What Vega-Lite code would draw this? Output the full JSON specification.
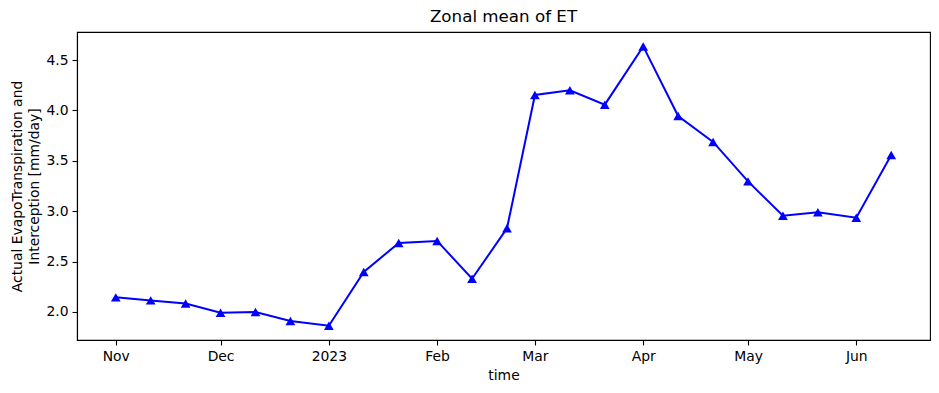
{
  "$schema": "https://vega.github.io/schema/vega-lite/v6.json",
  "width": 853,
  "height": 308,
  "autosize": "none",
  "padding": {"left": 77, "top": 32, "right": 9, "bottom": 53},
  "background": "white",
  "title": {"text": "Zonal mean of ET", "fontSize": 16.7, "fontWeight": "normal", "font": "DejaVu Sans", "color": "black", "offset": 6},
  "config": {
    "view": {"stroke": "black", "strokeWidth": 1.1},
    "font": "DejaVu Sans",
    "axis": {
      "labelFont": "DejaVu Sans", "labelFontSize": 13.9, "labelColor": "black",
      "titleFont": "DejaVu Sans", "titleFontSize": 13.9, "titleFontWeight": "normal", "titleColor": "black",
      "domainColor": "black", "domainWidth": 1.1, "tickColor": "black", "tickWidth": 1.1, "tickSize": 5,
      "labelPadding": 4, "grid": false
    }
  },
  "data": {"values": [
    {"time": "2022-11-01", "et": 2.145},
    {"time": "2022-11-11", "et": 2.115},
    {"time": "2022-11-21", "et": 2.085},
    {"time": "2022-12-01", "et": 1.993},
    {"time": "2022-12-11", "et": 2.0},
    {"time": "2022-12-21", "et": 1.91},
    {"time": "2023-01-01", "et": 1.864},
    {"time": "2023-01-11", "et": 2.397},
    {"time": "2023-01-21", "et": 2.685},
    {"time": "2023-02-01", "et": 2.705},
    {"time": "2023-02-11", "et": 2.33},
    {"time": "2023-02-21", "et": 2.83},
    {"time": "2023-03-01", "et": 4.153},
    {"time": "2023-03-11", "et": 4.2},
    {"time": "2023-03-21", "et": 4.057},
    {"time": "2023-04-01", "et": 4.635},
    {"time": "2023-04-11", "et": 3.944},
    {"time": "2023-04-21", "et": 3.687},
    {"time": "2023-05-01", "et": 3.296},
    {"time": "2023-05-11", "et": 2.955},
    {"time": "2023-05-21", "et": 2.99},
    {"time": "2023-06-01", "et": 2.935},
    {"time": "2023-06-11", "et": 3.557}
  ]},
  "encoding": {
    "x": {
      "field": "time", "type": "temporal",
      "scale": {"type": "utc", "domain": [
        {"year": 2022, "month": 10, "date": 20, "hours": 21, "minutes": 36, "utc": true},
        {"year": 2023, "month": 6, "date": 22, "hours": 2, "minutes": 24, "utc": true}
      ]},
      "axis": {
        "title": "time",
        "titlePadding": 6,
        "values": [
          {"year": 2022, "month": 11, "date": 1, "utc": true},
          {"year": 2022, "month": 12, "date": 1, "utc": true},
          {"year": 2023, "month": 1, "date": 1, "utc": true},
          {"year": 2023, "month": 2, "date": 1, "utc": true},
          {"year": 2023, "month": 3, "date": 1, "utc": true},
          {"year": 2023, "month": 4, "date": 1, "utc": true},
          {"year": 2023, "month": 5, "date": 1, "utc": true},
          {"year": 2023, "month": 6, "date": 1, "utc": true}
        ],
        "labelExpr": "utcmonth(datum.value) == 0 ? utcFormat(datum.value, '%Y') : utcFormat(datum.value, '%b')",
        "labelFlush": false,
        "labelOverlap": false
      }
    },
    "y": {
      "field": "et", "type": "quantitative",
      "scale": {"domain": [1.722, 4.778], "zero": false, "nice": false},
      "axis": {
        "title": ["Actual EvapoTranspiration and", "Interception [mm/day]"],
        "titleLineHeight": 17,
        "titlePadding": 4,
        "values": [2.0, 2.5, 3.0, 3.5, 4.0, 4.5],
        "format": ".1f"
      }
    }
  },
  "layer": [
    {"mark": {"type": "line", "color": "#0000ff", "strokeWidth": 2}},
    {"mark": {"type": "point", "shape": "triangle-up", "filled": true, "color": "#0000ff", "opacity": 1, "size": 95}}
  ]
}
